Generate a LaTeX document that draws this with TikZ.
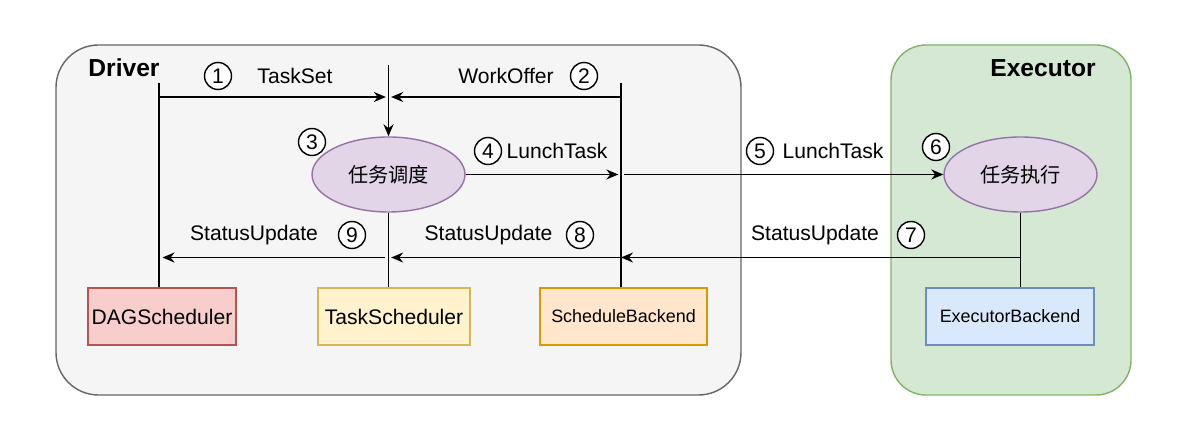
\documentclass[tikz,border=0pt]{standalone}
\usepackage{fontspec}
\setmainfont{Liberation Sans}
\newfontfamily\cjk{Noto Sans CJK SC}
\usetikzlibrary{arrows.meta, shapes.geometric}

\definecolor{drvfill}{HTML}{F5F5F5}
\definecolor{drvdraw}{HTML}{666666}
\definecolor{exefill}{HTML}{D5E8D4}
\definecolor{exedraw}{HTML}{82B366}
\definecolor{taskfill}{HTML}{E1D5E7}
\definecolor{taskdraw}{HTML}{9673A6}
\definecolor{redfill}{HTML}{F8CECC}
\definecolor{reddraw}{HTML}{B85450}
\definecolor{yelfill}{HTML}{FFF2CC}
\definecolor{yeldraw}{HTML}{D6B656}
\definecolor{orgfill}{HTML}{FFE6CC}
\definecolor{orgdraw}{HTML}{D79B00}
\definecolor{blufill}{HTML}{DAE8FC}
\definecolor{bludraw}{HTML}{6C8EBF}

\begin{document}
\begin{tikzpicture}[
    container/.style={rectangle, line width=0.8pt, minimum height=7cm, inner sep=0pt},
    title/.style={font=\bfseries\fontsize{14}{16}\selectfont},
    comp/.style={rectangle, line width=0.8pt, minimum height=1.14cm, inner sep=0pt, font=\fontsize{12}{14}\selectfont},
    task/.style={ellipse, draw=taskdraw, fill=taskfill, line width=0.8pt, minimum width=3.06cm, minimum height=1.5cm, inner sep=0pt, font=\cjk\fontsize{11.5}{14}\selectfont},
    num/.style={circle, draw=black, fill=white, line width=0.8pt, minimum size=0.54cm, inner sep=0pt, font=\fontsize{12}{14}\selectfont},
    lbl/.style={font=\fontsize{12}{14}\selectfont},
    arrow/.style={-{Stealth[length=0.24cm, width=0.2cm]}, line width=0.9pt},
    link/.style={line width=0.9pt}
]
\useasboundingbox (0,0) rectangle (23.96,-8.7);

% Containers Driver / Executor
\node[container, draw=drvdraw, fill=drvfill, rounded corners=0.85cm, minimum width=13.7cm] (driver) at (7.97,-4.4) {};
\node[container, draw=exedraw, fill=exefill, rounded corners=0.7cm, minimum width=4.8cm] (executor) at (20.22,-4.4) {};
\node[title] (drvtitle) at (2.48,-1.36) {Driver};
\node[title] (exetitle) at (20.86,-1.36) {Executor};

% Composants
\node[comp, draw=reddraw, fill=redfill, minimum width=2.96cm] (dag) at (3.24,-6.33) {DAGScheduler};
\node[comp, draw=yeldraw, fill=yelfill, minimum width=3.04cm] (ts) at (7.88,-6.33) {TaskScheduler};
\node[comp, draw=orgdraw, fill=orgfill, minimum width=3.34cm, font=\fontsize{10.2}{12}\selectfont] (sb) at (12.47,-6.33) {ScheduleBackend};
\node[comp, draw=bludraw, fill=blufill, minimum width=3.36cm, font=\fontsize{10.2}{12}\selectfont] (eb) at (20.2,-6.33) {ExecutorBackend};

% Ellipses
\node[task] (sched) at (7.77,-3.49) {任务调度};
\node[task] (exec) at (20.41,-3.49) {任务执行};

% Points de depart et niveaux
\coordinate (dagtop) at (3.18,-1.66);
\coordinate (tstop) at (7.77,-1.3);
\coordinate (sbtop) at (12.42,-1.66);
\coordinate (row1) at (0,-1.94);
\coordinate (row2) at (0,-5.15);

% Lignes verticales
\draw[link] (dagtop) -- (dagtop |- dag.north);
\draw[arrow] (tstop) -- (sched.north);
\draw[link] (sched.south) -- (sched.south |- ts.north);
\draw[link] (sbtop) -- (sbtop |- sb.north);
\draw[link] (exec.south) -- (exec.south |- eb.north);

% Fleches
\draw[arrow, shorten >=1.5pt] (dagtop |- row1) -- (tstop |- row1);
\draw[arrow, shorten >=1.5pt] (sbtop |- row1) -- (tstop |- row1);
\draw[arrow, shorten >=1.5pt] (sched.east) -- (sbtop |- sched.east);
\draw[arrow, shorten <=1.5pt] (sbtop |- sched.east) -- (exec.west);
\draw[arrow] (exec.south |- row2) -- (sbtop |- row2);
\draw[arrow, shorten >=1.5pt] (sbtop |- row2) -- (sched.south |- row2);
\draw[arrow, shorten <=2pt, shorten >=2pt] (sched.south |- row2) -- (dagtop |- row2);

% Etiquettes
\node[num] (n1) at (4.36,-1.52) {1};
\node[lbl] (l1) at (5.9,-1.52) {TaskSet};
\node[lbl] (l2) at (10.12,-1.52) {WorkOffer};
\node[num] (n2) at (11.68,-1.52) {2};
\node[num] (n3) at (6.24,-2.84) {3};
\node[num] (n4) at (9.76,-3.02) {4};
\node[lbl] (l4) at (11.14,-3.02) {LunchTask};
\node[num] (n5) at (15.2,-3.02) {5};
\node[lbl] (l5) at (16.66,-3.02) {LunchTask};
\node[num] (n6) at (18.72,-2.94) {6};
\node[lbl] (l9) at (5.08,-4.7) {StatusUpdate};
\node[num] (n9) at (7.04,-4.7) {9};
\node[lbl] (l8) at (9.77,-4.7) {StatusUpdate};
\node[num] (n8) at (11.6,-4.7) {8};
\node[lbl] (l7) at (16.3,-4.7) {StatusUpdate};
\node[num] (n7) at (18.22,-4.7) {7};

\end{tikzpicture}
\end{document}
